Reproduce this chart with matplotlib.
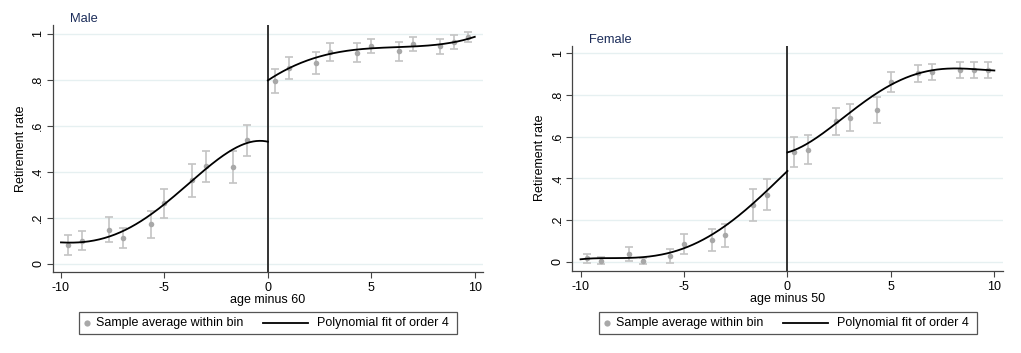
import numpy as np
import matplotlib.pyplot as plt
from matplotlib.lines import Line2D
from matplotlib.patches import Rectangle

plt.rcParams['font.family'] = ['Liberation Sans', 'DejaVu Sans']
plt.rcParams['axes.unicode_minus'] = False

# bin centres (years relative to the cutoff)
bins = [-9.67, -9, -7.67, -7, -5.67, -5, -3.67, -3, -1.67, -1,
        0.33, 1, 2.33, 3, 4.33, 5, 6.33, 7, 8.33, 9, 9.67]

# male: bin averages and 95% bounds
male_avg = [0.081, 0.100, 0.148, 0.112, 0.171, 0.262, 0.364, 0.425, 0.422, 0.538,
            0.796, 0.850, 0.874, 0.920, 0.917, 0.946, 0.925, 0.957, 0.946, 0.964, 0.986]
male_hi = [0.125, 0.142, 0.203, 0.155, 0.230, 0.325, 0.433, 0.491, 0.491, 0.604,
           0.848, 0.897, 0.922, 0.958, 0.958, 0.978, 0.965, 0.987, 0.978, 0.993, 1.006]
male_lo = [0.038, 0.058, 0.096, 0.068, 0.113, 0.197, 0.291, 0.354, 0.351, 0.468,
           0.742, 0.801, 0.826, 0.883, 0.878, 0.914, 0.881, 0.925, 0.910, 0.932, 0.962]

# female
female_avg = [0.018, 0.006, 0.040, 0.003, 0.029, 0.088, 0.107, 0.128, 0.273, 0.321,
              0.529, 0.538, 0.674, 0.690, 0.730, 0.861, 0.906, 0.910, 0.922, 0.922, 0.922]
female_hi = [0.038, 0.022, 0.073, 0.018, 0.061, 0.133, 0.157, 0.184, 0.351, 0.396,
             0.601, 0.609, 0.736, 0.756, 0.791, 0.912, 0.944, 0.950, 0.958, 0.960, 0.960]
female_lo = [-0.006, -0.010, 0.005, -0.010, -0.006, 0.038, 0.054, 0.072, 0.195, 0.248,
             0.454, 0.468, 0.609, 0.626, 0.666, 0.812, 0.863, 0.870, 0.883, 0.880, 0.880]

# fitted curve, read at whole years on each side of the cutoff
fit_x_left = [-10, -9, -8, -7, -6, -5, -4, -3, -2, -1, 0]
fit_x_right = [0, 1, 2, 3, 4, 5, 6, 7, 8, 9, 10]
male_fit_left = [0.090, 0.097, 0.113, 0.139, 0.183, 0.262, 0.340, 0.414, 0.478, 0.520, 0.533]
male_fit_right = [0.797, 0.849, 0.886, 0.912, 0.929, 0.936, 0.941, 0.943, 0.951, 0.964, 0.986]
female_fit_left = [0.014, 0.016, 0.018, 0.024, 0.038, 0.067, 0.112, 0.169, 0.248, 0.348, 0.433]
female_fit_right = [0.524, 0.572, 0.636, 0.712, 0.789, 0.848, 0.895, 0.917, 0.926, 0.925, 0.917]

yticks = [0, 0.2, 0.4, 0.6, 0.8, 1]
ytick_labels = ['0', '.2', '.4', '.6', '.8', '1']
xticks = [-10, -5, 0, 5, 10]
legend_labels = ['Sample average within bin', 'Polynomial fit of order 4']

TITLE_C = '#1c2d5a'
PT_C = '#a8a8a8'
ERR_C = '#c4c4c4'
FS = 9
W, H = 1021, 353


def smooth(xs, ys):
    # order-4 polynomial through the read-off curve values
    c = np.polyfit(xs, ys, 4)
    xx = np.linspace(xs[0], xs[-1], 200)
    return xx, np.polyval(c, xx)


def legend_box(fig, x0):
    # stata-style legend, positions in pixels from the top-left
    fx = lambda px: px / W
    fy = lambda py: 1 - py / H
    fig.add_artist(Rectangle((fx(x0), fy(334)), fx(378), 22 / H, transform=fig.transFigure,
                             fill=False, edgecolor='#555555', lw=0.9))
    fig.add_artist(Line2D([fx(x0 + 8)], [fy(323)], marker='o', ls='none', color=PT_C,
                          markersize=4.5, markeredgewidth=0, transform=fig.transFigure))
    fig.text(fx(x0 + 17), fy(323), legend_labels[0], fontsize=FS, va='center', ha='left')
    fig.add_artist(Line2D([fx(x0 + 184), fx(x0 + 229)], [fy(323), fy(323)], color='black',
                          lw=1.3, transform=fig.transFigure))
    fig.text(fx(x0 + 238), fy(323), legend_labels[1], fontsize=FS, va='center', ha='left')


def panel(ax, title, xlabel, avg, lo, hi, fl, fr, ylo, yhi):
    avg = np.array(avg)
    err = [avg - np.array(lo), np.array(hi) - avg]
    ax.errorbar(bins, avg, yerr=err, fmt='none', ecolor=ERR_C, elinewidth=1.2,
                capsize=3, capthick=1.2, zorder=2)
    ax.scatter(bins, avg, s=16, color=PT_C, zorder=3, linewidths=0)
    for xs, ys in ((fit_x_left, fl), (fit_x_right, fr)):
        xx, yy = smooth(xs, ys)
        ax.plot(xx, yy, color='black', lw=1.3, zorder=4)
    ax.axvline(0, color='#333333', lw=1.4, zorder=1)
    ax.set_xlim(-10.4, 10.4)
    ax.set_ylim(ylo, yhi)
    ax.set_yticks(yticks)
    ax.set_yticklabels(ytick_labels, rotation=90, va='center')
    ax.set_xticks(xticks)
    ax.grid(axis='y', color='#e6f0f1', lw=1.0)
    ax.set_axisbelow(True)
    for s in ('top', 'right'):
        ax.spines[s].set_visible(False)
    for s in ('left', 'bottom'):
        ax.spines[s].set_color('#444444')
        ax.spines[s].set_linewidth(0.9)
    ax.tick_params(labelsize=FS, color='#444444', length=4, pad=3.5)
    ax.tick_params(axis='y', pad=2)
    ax.set_ylabel('Retirement rate', fontsize=FS, va='center')
    ax.yaxis.set_label_coords(-0.074, 0.5)
    ax.set_xlabel(xlabel, fontsize=FS, labelpad=0)
    ax.text(0.04, 1.0, title, transform=ax.transAxes, fontsize=9.3,
            color=TITLE_C, va='bottom', ha='left')


fig = plt.figure(figsize=(W / 100, H / 100), dpi=100)
ax1 = fig.add_axes([0.0516, 0.2303, 0.4215, 0.699])
ax2 = fig.add_axes([0.5605, 0.2331, 0.4215, 0.6374])

panel(ax1, 'Male', 'age minus 60', male_avg, male_lo, male_hi,
      male_fit_left, male_fit_right, -0.035, 1.038)
panel(ax2, 'Female', 'age minus 50', female_avg, female_lo, female_hi,
      female_fit_left, female_fit_right, -0.042, 1.036)
legend_box(fig, 79)
legend_box(fig, 599)

fig.savefig('out.png', dpi=100)
